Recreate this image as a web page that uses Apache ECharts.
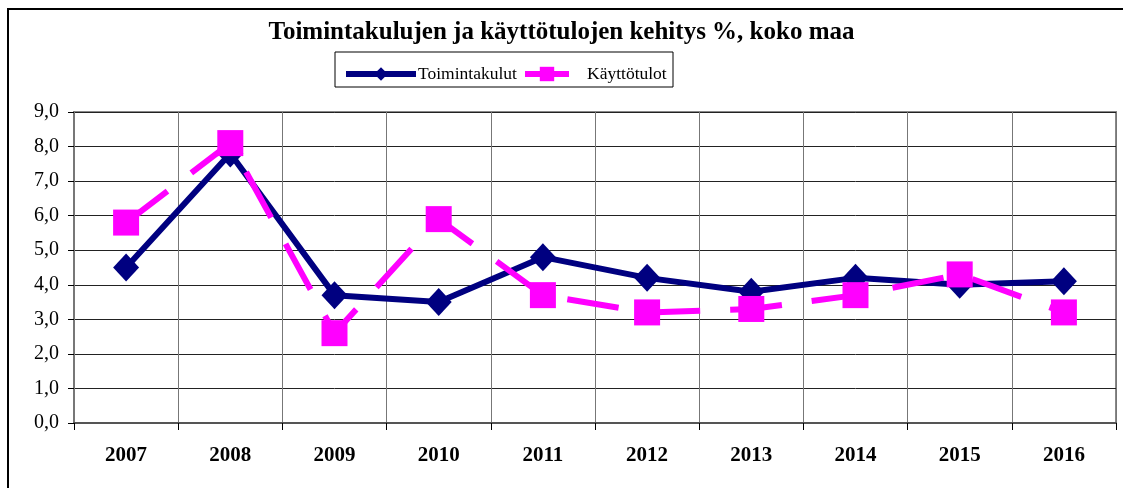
<!DOCTYPE html>
<html>
<head>
<meta charset="utf-8">
<script src="https://cdn.jsdelivr.net/npm/echarts@6/dist/echarts.min.js"></script>
<style>
  html, body { margin: 0; padding: 0; background: #fff; }
  #chart { width: 1123px; height: 488px; }
</style>
</head>
<body>
<div id="chart"></div>
<script>
const years = ['2007', '2008', '2009', '2010', '2011', '2012', '2013', '2014', '2015', '2016'];
const toimintakulut = [4.5, 7.8, 3.7, 3.5, 4.8, 4.2, 3.8, 4.2, 4.0, 4.1];
const kayttotulot = [5.8, 8.1, 2.6, 5.9, 3.7, 3.2, 3.3, 3.7, 4.3, 3.2];

const serif = '"Liberation Serif", "Times New Roman", serif';
const legendText = { fontFamily: serif, fontSize: 17.5, color: '#000' };

const chart = echarts.init(document.getElementById('chart'));
chart.setOption({
  animation: false,
  backgroundColor: '#fff',
  graphic: [{
    // outer frame of the chart object
    type: 'rect',
    shape: { x: 8, y: 9, width: 1300, height: 700 },
    style: { fill: 'none', stroke: '#000', lineWidth: 2 },
    silent: true
  }, {
    // legend box
    type: 'rect',
    shape: { x: 335, y: 52, width: 338, height: 35 },
    style: { fill: 'none', stroke: '#000', lineWidth: 1 },
    silent: true
  }],
  title: {
    text: 'Toimintakulujen ja käyttötulojen kehitys %, koko maa',
    left: 'center',
    top: 15,
    textStyle: { fontFamily: serif, fontSize: 25, fontWeight: 'bold', color: '#000' }
  },
  legend: [{
    left: 338,
    top: 60,
    itemWidth: 70,
    itemHeight: 17,
    lineStyle: { width: 6, type: 'solid' },
    textStyle: Object.assign({ padding: [0, 0, 0, -3] }, legendText),
    data: ['Toimintakulut']
  }, {
    left: 517,
    top: 60,
    itemWidth: 44,
    itemHeight: 18,
    lineStyle: { width: 6, type: 'solid' },
    textStyle: Object.assign({ padding: [0, 0, 0, 13] }, legendText),
    data: ['Käyttötulot']
  }],
  grid: {
    left: 74,
    right: 7,
    top: 112,
    bottom: 65,
    show: true,
    borderColor: '#888',
    borderWidth: 2
  },
  xAxis: {
    type: 'category',
    data: years,
    boundaryGap: true,
    axisLine: { lineStyle: { color: '#555', width: 2 } },
    axisTick: { show: true, interval: 0, length: 7, lineStyle: { color: '#000' } },
    splitLine: { show: true, interval: 0, lineStyle: { color: '#777', width: 1 } },
    axisLabel: {
      margin: 22,
      interval: 0,
      fontFamily: serif,
      fontSize: 21,
      fontWeight: 'bold',
      color: '#000'
    }
  },
  yAxis: {
    type: 'value',
    min: 0,
    max: 9,
    interval: 1,
    axisLine: { show: true, lineStyle: { color: '#777', width: 2 } },
    axisTick: { show: true, length: 6, lineStyle: { color: '#000' } },
    splitLine: { lineStyle: { color: '#222', width: 1 } },
    axisLabel: {
      margin: 15,
      fontFamily: serif,
      fontSize: 20,
      color: '#000',
      formatter: v => v.toFixed(1).replace('.', ',')
    }
  },
  series: [{
    name: 'Toimintakulut',
    type: 'line',
    data: toimintakulut,
    symbol: 'diamond',
    symbolSize: [26, 28],
    color: '#000080',
    itemStyle: { color: '#000080' },
    lineStyle: { color: '#000080', width: 6 },
    z: 2
  }, {
    name: 'Käyttötulot',
    type: 'line',
    data: kayttotulot,
    symbol: 'rect',
    symbolSize: 26,
    color: '#ff00ff',
    itemStyle: { color: '#ff00ff' },
    lineStyle: { color: '#ff00ff', width: 6, type: [52, 30] },
    z: 3
  }]
});
</script>
</body>
</html>
